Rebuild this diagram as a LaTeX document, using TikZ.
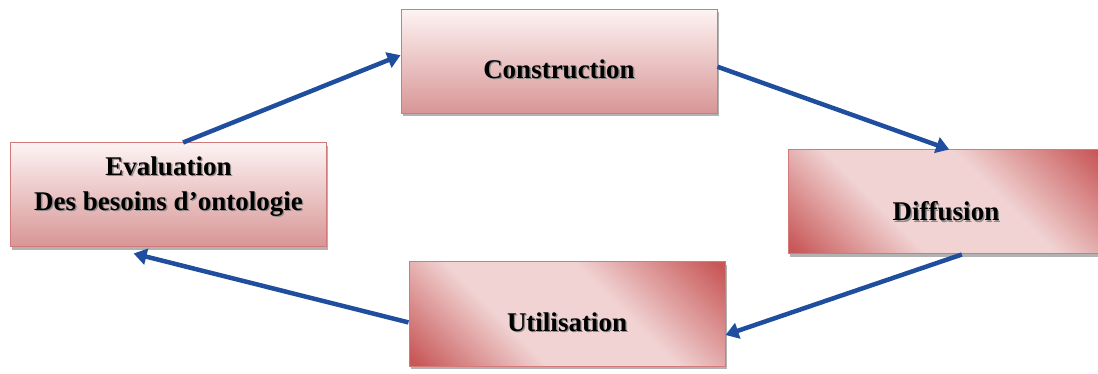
\documentclass[tikz,border=0pt]{standalone}
\usepackage{fontspec}
\setmainfont{Liberation Serif}
\usetikzlibrary{arrows.meta,shadows,calc}

\definecolor{edge}{HTML}{D27A7A}
\definecolor{pinkTop}{HTML}{FDF3F3}
\definecolor{pinkBot}{HTML}{D89595}
\definecolor{bandDark}{HTML}{C85757}
\definecolor{bandLight}{HTML}{F1D3D3}
\definecolor{flowblue}{HTML}{1F4E9E}

% light band along one diagonal, darker towards the two other corners
\pgfdeclarehorizontalshading{crossband}{100bp}{color(0bp)=(bandDark); color(16bp)=(bandDark); color(38bp)=(bandLight); color(60bp)=(bandLight); color(84bp)=(bandDark); color(100bp)=(bandDark)}

% text with a soft grey shadow, moved vertically by #1 without changing its box
\newcommand\shd[2]{\raisebox{#1}[\height][\depth]{\rlap{\raisebox{-1.4pt}{\kern1.4pt\textcolor{black!45}{#2}}}#2}}

\tikzset{
  box/.style={draw=edge, line width=1pt, minimum width=316pt, minimum height=104pt,
    inner sep=0pt, align=center,
    font=\fontsize{27}{35}\selectfont\bfseries,
    drop shadow={shadow xshift=1.5pt, shadow yshift=-3pt, fill=black!55, opacity=0.55}},
  vgrad/.style={top color=pinkTop, bottom color=pinkBot},
  dgrad/.style={shading=crossband, shading angle=45}
}
\tikzset{
  flow/.style={draw=flowblue, line width=4.5pt,
    -{Triangle[length=13pt,width=16pt]}}
}

\begin{document}
\begin{tikzpicture}[x=1pt,y=-1pt]
\useasboundingbox (0,0) rectangle (1098,374);

\node[box, vgrad] (con) at (559,61.5) {\shd{-8pt}{Construction}};
\node[box, vgrad] (eva) at (168.5,195) {\shd{8pt}{Evaluation}\\\shd{8pt}{Des besoins d’ontologie}};
\node[box, dgrad] (dif) at (946,202)   {\shd{-10pt}{Diffusion}};
\node[box, dgrad] (uti) at (567,314)   {\shd{-9pt}{Utilisation}};

\draw[flow] ($(eva.north west)!0.546!(eva.north east)$) -- ($(con.north west)!0.44!(con.south west)$);
\draw[flow] ($(con.north east)!0.55!(con.south east)$) -- ($(dif.north west)!0.51!(dif.north east)$);
\draw[flow] ($(dif.south west)!0.55!(dif.south east)$) -- ($(uti.north east)!0.70!(uti.south east)$);
\draw[flow] ($(uti.north west)!0.58!(uti.south west)$) -- ($(eva.south west)!0.39!(eva.south east)+(0,6)$);
\end{tikzpicture}
\end{document}
